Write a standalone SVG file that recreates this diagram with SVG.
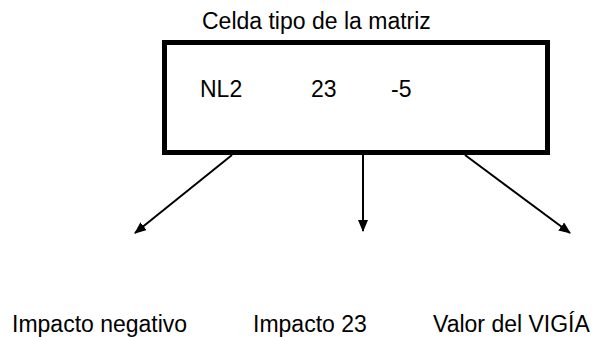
<svg xmlns="http://www.w3.org/2000/svg" width="593" height="337" viewBox="0 0 593 337">
<style>
text{font-family:"Liberation Sans",Arial,sans-serif;font-size:23px;fill:#000}
.edge{stroke:#000;stroke-width:2;fill:none;marker-end:url(#ah)}
</style>
<defs>
<marker id="ah" markerWidth="12" markerHeight="10" refX="11" refY="5" orient="auto" markerUnits="userSpaceOnUse">
<path d="M0,0 L12,5 L0,10 Z" fill="#000"/>
</marker>
</defs>
<rect width="593" height="337" fill="#fff"/>
<text x="202" y="29">Celda tipo de la matriz</text>
<g id="cell">
<rect x="164.5" y="42.5" width="383" height="110" fill="#fff" stroke="#000" stroke-width="5"/>
<text x="200" y="97">NL2</text>
<text x="311" y="97">23</text>
<text x="391" y="97">-5</text>
</g>
<g id="connectors">
<line class="edge" x1="232" y1="155" x2="135" y2="233"/>
<line class="edge" x1="363" y1="155" x2="363" y2="231"/>
<line class="edge" x1="465" y1="155" x2="570" y2="233"/>
</g>
<g id="impacto-negativo"><text x="12" y="332">Impacto negativo</text></g>
<g id="impacto-23"><text x="253" y="332">Impacto 23</text></g>
<g id="valor-vigia"><text x="433" y="332">Valor del VIGÍA</text></g>
</svg>
